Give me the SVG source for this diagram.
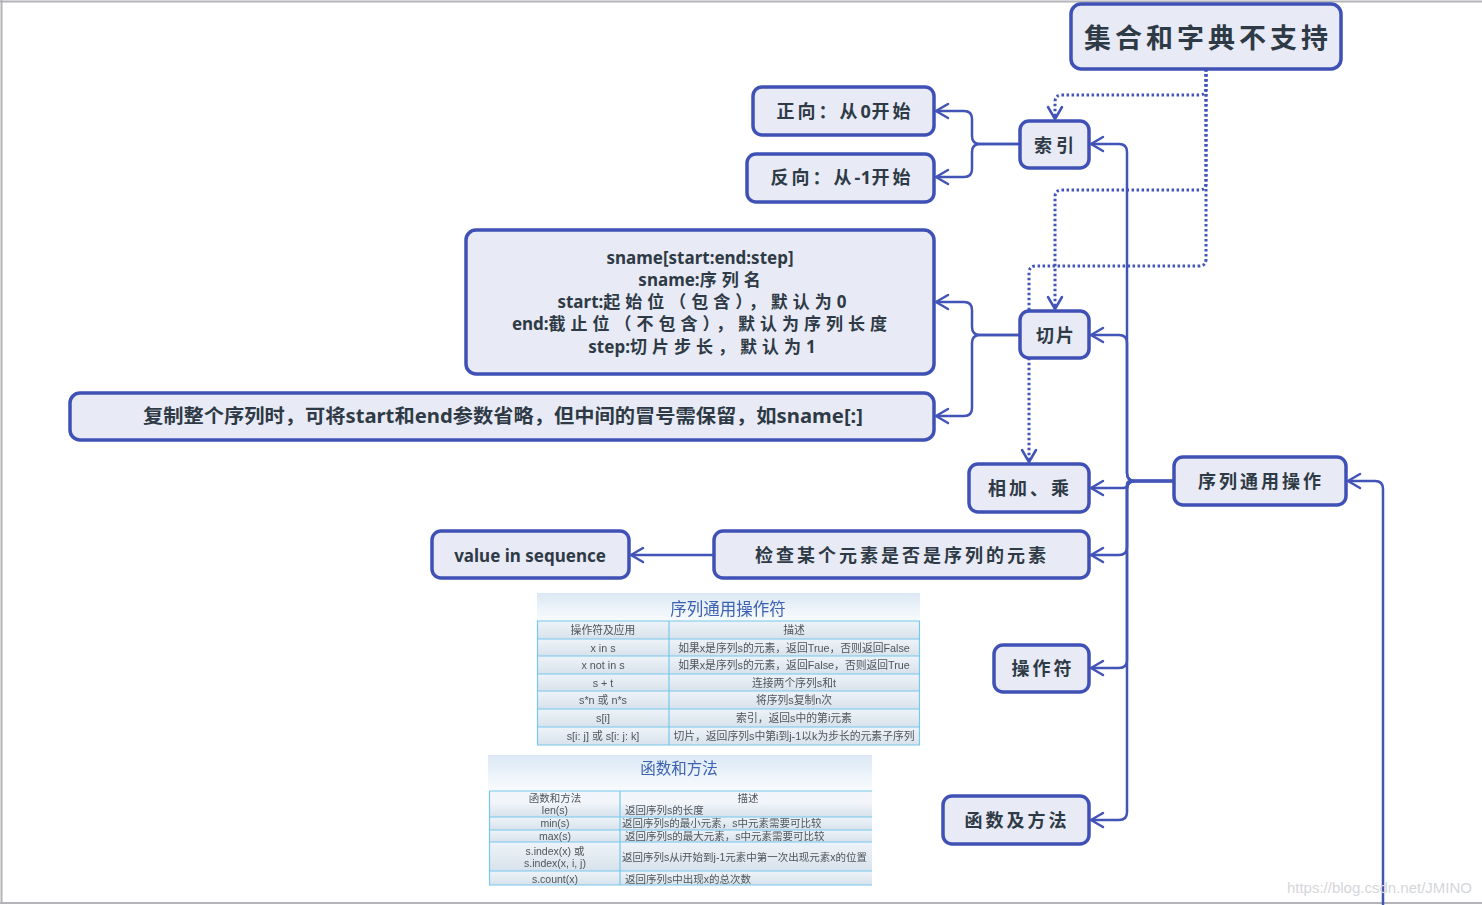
<svg xmlns="http://www.w3.org/2000/svg" width="1482" height="905" viewBox="0 0 1482 905">
  <style>
    .node rect { fill: #e8eaf6; stroke: #3f51b5; stroke-width: 3.5; }
    .lbl { font-family: "Noto Sans", "Noto Sans CJK SC", sans-serif; font-weight: bold; fill: #2e3a45; dominant-baseline: central; text-anchor: middle; }
    .cjk { letter-spacing: 3px; }
    .tight { letter-spacing: 0.5px; }
    .wide { letter-spacing: 5px; }
    .link { fill: none; stroke: #4254b8; stroke-width: 2.5; stroke-linejoin: round; }
    .dot { fill: none; stroke: #4254b8; stroke-width: 3; stroke-dasharray: 2.5 2.5; }
    .tt { font-family: "Noto Sans CJK SC", "Noto Sans", sans-serif; fill: #3d62b2; text-anchor: middle; dominant-baseline: central; }
    .td { font-family: "Liberation Sans", "Noto Sans CJK SC", sans-serif; fill: #50555b; dominant-baseline: central; }
    .t1 { font-size: 10.8px; }
    .t2 { font-size: 10.5px; }
    .tc { text-anchor: middle; }
    .grid { stroke: #76c8ec; stroke-width: 1.2; fill: none; }
  </style>
  <defs>
    <marker id="arr" viewBox="0 0 14 16" refX="13" refY="8" markerWidth="14" markerHeight="16" markerUnits="userSpaceOnUse" orient="auto" overflow="visible">
      <path d="M1,1 L13,8 L1,15" fill="none" stroke="#4254b8" stroke-width="2.5" stroke-linecap="round" stroke-linejoin="round"/>
    </marker>
    <linearGradient id="cell" x1="0" y1="0" x2="0" y2="1">
      <stop offset="0" stop-color="#eef3f8"/>
      <stop offset="1" stop-color="#d8e2ec"/>
    </linearGradient>
    <linearGradient id="band" x1="0" y1="0" x2="0" y2="1">
      <stop offset="0" stop-color="#dbe8f4"/>
      <stop offset="0.6" stop-color="#eef4fa"/>
      <stop offset="1" stop-color="#f8fbfd"/>
    </linearGradient>
    <filter id="soft" x="-2%" y="-2%" width="104%" height="104%">
      <feGaussianBlur stdDeviation="0.35"/>
    </filter>
  </defs>

  <!-- frame -->
  <rect x="0" y="0" width="1482" height="905" fill="#ffffff"/>
  <path d="M0,1.5 H1482 M1.5,0 V903 M0,903 H1482" stroke="#b4b4b8" stroke-width="2" fill="none"/>

  <!-- connectors -->
  <g id="connectors">
    <path class="link" marker-end="url(#arr)" d="M1174,481 H1135 Q1127,481 1127,473 V152 Q1127,144 1119,144 H1091"/>
    <path class="link" marker-end="url(#arr)" d="M1174,481 H1135 Q1127,481 1127,473 V343 Q1127,335 1119,335 H1091"/>
    <path class="link" marker-end="url(#arr)" d="M1174,481 H1131 Q1127,481 1127,484.5 Q1127,488 1123,488 H1091"/>
    <path class="link" marker-end="url(#arr)" d="M1174,481 H1135 Q1127,481 1127,489 V547 Q1127,555 1119,555 H1091"/>
    <path class="link" marker-end="url(#arr)" d="M1174,481 H1135 Q1127,481 1127,489 V660 Q1127,668 1119,668 H1091"/>
    <path class="link" marker-end="url(#arr)" d="M1174,481 H1135 Q1127,481 1127,489 V812 Q1127,820 1119,820 H1091"/>
    <path class="link" marker-end="url(#arr)" d="M1383,905 V489 Q1383,481 1375,481 H1348"/>
    <path class="link" marker-end="url(#arr)" d="M1020,144 H980 Q972,144 972,136 V119 Q972,111 964,111 H936"/>
    <path class="link" marker-end="url(#arr)" d="M1020,144 H980 Q972,144 972,152 V169 Q972,177 964,177 H936"/>
    <path class="link" marker-end="url(#arr)" d="M1020,335 H980 Q972,335 972,327 V310 Q972,302 964,302 H936"/>
    <path class="link" marker-end="url(#arr)" d="M1020,335 H980 Q972,335 972,343 V408 Q972,416 964,416 H936"/>
    <path class="link" marker-end="url(#arr)" d="M714,555 H631"/>
    <path class="dot" marker-end="url(#arr)" d="M1206,69 V88 Q1206,95 1199,95 H1062 Q1055,95 1055,102 V119"/>
    <path class="dot" marker-end="url(#arr)" d="M1206,69 V183 Q1206,190 1199,190 H1062 Q1055,190 1055,197 V309"/>
    <path class="dot" marker-end="url(#arr)" d="M1206,69 V259 Q1206,266 1199,266 H1036 Q1029,266 1029,273 V462"/>
  </g>

  <!-- nodes -->
  <g id="n-root" class="node">
    <rect x="1071" y="4" width="270" height="65" rx="10"/>
    <text class="lbl" x="1208" y="37" font-size="27" style="letter-spacing:4px">集合和字典不支持</text>
  </g>
  <g id="n-forward" class="node">
    <rect x="753" y="87" width="181" height="48" rx="9"/>
    <text class="lbl cjk" x="845" y="111" font-size="18">正向：从<tspan class="tight">0</tspan>开始</text>
  </g>
  <g id="n-backward" class="node">
    <rect x="747" y="154" width="187" height="48" rx="9"/>
    <text class="lbl cjk" x="842" y="177" font-size="18">反向：从<tspan class="tight">-1</tspan>开始</text>
  </g>
  <g id="n-index" class="node">
    <rect x="1020" y="121" width="69" height="47" rx="9"/>
    <text class="lbl" x="1056" y="145" font-size="18" style="letter-spacing:4px">索引</text>
  </g>
  <g id="n-slice-desc" class="node">
    <rect x="466" y="230" width="468" height="144" rx="10"/>
    <text class="lbl" x="700" y="257" font-size="17">sname[start:end:step]</text>
    <text class="lbl" x="702" y="279" font-size="17">sname:<tspan class="wide">序列名</tspan></text>
    <text class="lbl" x="702" y="301" font-size="17">start:<tspan class="wide">起始位（包含），默认为</tspan>0</text>
    <text class="lbl" x="702" y="323" font-size="17">end:<tspan class="wide">截止位（不包含），默认为序列长度</tspan></text>
    <text class="lbl" x="702" y="346" font-size="17">step:<tspan class="wide">切片步长，默认为</tspan>1</text>
  </g>
  <g id="n-copy" class="node">
    <rect x="70" y="393" width="864" height="47" rx="10"/>
    <text class="lbl" x="503" y="416" font-size="19" textLength="720" lengthAdjust="spacingAndGlyphs">复制整个序列时，可将start和end参数省略，但中间的冒号需保留，如sname[:]</text>
  </g>
  <g id="n-slice" class="node">
    <rect x="1020" y="311" width="69" height="47" rx="9"/>
    <text class="lbl" x="1056" y="335" font-size="18" style="letter-spacing:2px">切片</text>
  </g>
  <g id="n-add" class="node">
    <rect x="969" y="464" width="120" height="48" rx="9"/>
    <text class="lbl cjk" x="1030" y="488" font-size="18">相加、乘</text>
  </g>
  <g id="n-common" class="node">
    <rect x="1174" y="457" width="172" height="48" rx="9"/>
    <text class="lbl cjk" x="1261" y="481" font-size="18">序列通用操作</text>
  </g>
  <g id="n-value" class="node">
    <rect x="432" y="531" width="197" height="47" rx="9"/>
    <text class="lbl" x="530" y="555" font-size="17">value in sequence</text>
  </g>
  <g id="n-check" class="node">
    <rect x="714" y="531" width="375" height="47" rx="9"/>
    <text class="lbl cjk" x="902" y="555" font-size="18">检查某个元素是否是序列的元素</text>
  </g>
  <g id="n-ops" class="node">
    <rect x="994" y="645" width="95" height="47" rx="9"/>
    <text class="lbl cjk" x="1043" y="668" font-size="18">操作符</text>
  </g>
  <g id="n-funcs" class="node">
    <rect x="943" y="796" width="146" height="48" rx="9"/>
    <text class="lbl cjk" x="1017" y="820" font-size="18">函数及方法</text>
  </g>

  <!-- operator table -->
  <g id="table-ops" filter="url(#soft)">
    <rect x="537" y="593" width="383" height="28" fill="url(#band)"/>
    <text class="tt" x="728" y="608" font-size="16.5">序列通用操作符</text>
    <rect x="537" y="621" width="132" height="18" fill="url(#cell)"/>
    <rect x="669" y="621" width="251" height="18" fill="url(#cell)"/>
    <rect x="537" y="639" width="132" height="17" fill="url(#cell)"/>
    <rect x="669" y="639" width="251" height="17" fill="url(#cell)"/>
    <rect x="537" y="656" width="132" height="18" fill="url(#cell)"/>
    <rect x="669" y="656" width="251" height="18" fill="url(#cell)"/>
    <rect x="537" y="674" width="132" height="17" fill="url(#cell)"/>
    <rect x="669" y="674" width="251" height="17" fill="url(#cell)"/>
    <rect x="537" y="691" width="132" height="18" fill="url(#cell)"/>
    <rect x="669" y="691" width="251" height="18" fill="url(#cell)"/>
    <rect x="537" y="709" width="132" height="18" fill="url(#cell)"/>
    <rect x="669" y="709" width="251" height="18" fill="url(#cell)"/>
    <rect x="537" y="727" width="132" height="18" fill="url(#cell)"/>
    <rect x="669" y="727" width="251" height="18" fill="url(#cell)"/>
    <path class="grid" d="M537,621 H920 M537,639 H920 M537,656 H920 M537,674 H920 M537,691 H920 M537,709 H920 M537,727 H920 M537,745 H920 M537.5,621 V745 M669,621 V745 M919.5,621 V745"/>
    <text class="td t1 tc" x="603" y="630">操作符及应用</text>
    <text class="td t1 tc" x="794" y="630">描述</text>
    <text class="td t1 tc" x="603" y="648">x in s</text>
    <text class="td t1 tc" x="794" y="648">如果x是序列s的元素，返回True，否则返回False</text>
    <text class="td t1 tc" x="603" y="665">x not in s</text>
    <text class="td t1 tc" x="794" y="665">如果x是序列s的元素，返回False，否则返回True</text>
    <text class="td t1 tc" x="603" y="683">s + t</text>
    <text class="td t1 tc" x="794" y="683">连接两个序列s和t</text>
    <text class="td t1 tc" x="603" y="700">s*n 或 n*s</text>
    <text class="td t1 tc" x="794" y="700">将序列s复制n次</text>
    <text class="td t1 tc" x="603" y="718">s[i]</text>
    <text class="td t1 tc" x="794" y="718">索引，返回s中的第i元素</text>
    <text class="td t1 tc" x="603" y="736">s[i: j] 或 s[i: j: k]</text>
    <text class="td t1 tc" x="794" y="736">切片，返回序列s中第i到j-1以k为步长的元素子序列</text>
  </g>

  <!-- functions table -->
  <g id="table-funcs" filter="url(#soft)">
    <rect x="488" y="755" width="384" height="36" fill="url(#band)"/>
    <text class="tt" x="679" y="767" font-size="15.5">函数和方法</text>
    <rect x="489" y="791" width="383" height="13" fill="#f2f6fa"/>
    <rect x="489" y="804" width="383" height="13" fill="url(#cell)"/>
    <rect x="489" y="817" width="383" height="13" fill="url(#cell)"/>
    <rect x="489" y="830" width="383" height="12" fill="url(#cell)"/>
    <rect x="489" y="842" width="383" height="29" fill="url(#cell)"/>
    <rect x="489" y="871" width="383" height="14" fill="url(#cell)"/>
    <path class="grid" d="M489,791 H872 M489,817 H872 M489,830 H872 M489,842 H872 M489,871 H872 M489,885 H872 M489.5,791 V885 M620,791 V885"/>
    <text class="td t2 tc" x="555" y="798">函数和方法</text>
    <text class="td t2 tc" x="748" y="798">描述</text>
    <text class="td t2 tc" x="555" y="810">len(s)</text>
    <text class="td t2" x="625" y="810">返回序列s的长度</text>
    <text class="td t2 tc" x="555" y="823">min(s)</text>
    <text class="td t2" x="622" y="823">返回序列s的最小元素，s中元素需要可比较</text>
    <text class="td t2 tc" x="555" y="836">max(s)</text>
    <text class="td t2" x="625" y="836">返回序列s的最大元素，s中元素需要可比较</text>
    <text class="td t2 tc" x="555" y="851">s.index(x) 或</text>
    <text class="td t2 tc" x="555" y="863">s.index(x, i, j)</text>
    <text class="td t2" x="622" y="857">返回序列s从i开始到j-1元素中第一次出现元素x的位置</text>
    <text class="td t2 tc" x="555" y="879">s.count(x)</text>
    <text class="td t2" x="625" y="879">返回序列s中出现x的总次数</text>
  </g>

  <text x="1472" y="887" font-family="Liberation Sans, sans-serif" font-size="15" fill="#d4d6da" text-anchor="end" dominant-baseline="central">https://blog.csdn.net/JMINO</text>
</svg>
